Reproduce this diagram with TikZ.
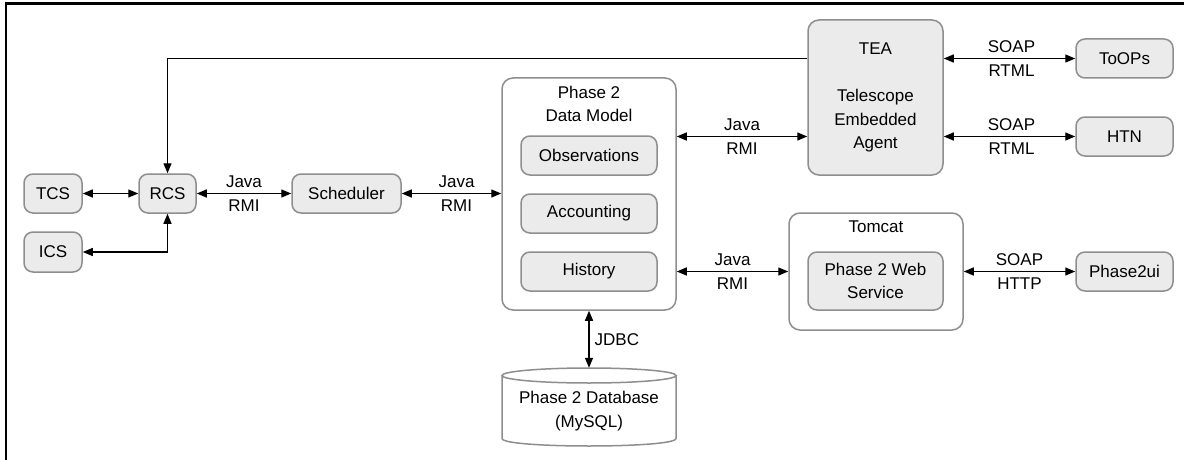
\documentclass[tikz,border=0pt]{standalone}
\usepackage{fontspec}
\setmainfont{Liberation Sans}
\usetikzlibrary{arrows.meta,calc}
\definecolor{boxfill}{HTML}{EBEBEB}
\definecolor{boxline}{HTML}{8E8E8E}
\begin{document}
\begin{tikzpicture}[x=1pt,y=-1pt,
  font=\fontsize{17}{23.5}\selectfont,
  comp/.style={draw=boxline,line width=1.5pt,fill=boxfill,rounded corners=9pt,inner sep=0pt,align=center},
  cont/.style={draw=boxline,line width=1.5pt,fill=white,rounded corners=11pt,inner sep=0pt},
  lnk/.style={line width=1.4pt,{Triangle[length=10pt,width=8pt]}-{Triangle[length=10pt,width=8pt]}},
  lnkone/.style={line width=1.4pt,-{Triangle[length=10pt,width=8pt]}},
  lbl/.style={align=center,inner sep=0pt}]
\useasboundingbox (0,0) rectangle (1184,460);
\draw[line width=2.5pt] (6,460) -- (6,3.5) -- (1184,3.5);
% left group
\node[comp,minimum width=58pt,minimum height=39pt] (tcs) at (53,193.5) {TCS};
\node[comp,minimum width=58pt,minimum height=40pt] (ics) at (53,252) {ICS};
\node[comp,minimum width=57pt,minimum height=39pt] (rcs) at (167.5,193.5) {RCS};
\node[comp,minimum width=109pt,minimum height=39pt] (sched) at (346.5,193.5) {Scheduler};
% data model
\node[cont,minimum width=174pt,minimum height=232pt] (dm) at (589,194) {};
\node[lbl] (dmtitle) at (589,104) {Phase 2\\Data Model};
\node[comp,minimum width=136pt,minimum height=39pt] (obs) at (589,155.5) {Observations};
\node[comp,minimum width=136pt,minimum height=39pt] (acc) at (589,213.5) {Accounting};
\node[comp,minimum width=136pt,minimum height=39pt] (hist) at (589,271.5) {History};
% TEA
\node[comp,rounded corners=11pt,minimum width=135pt,minimum height=155pt] (tea) at (875.5,97.5) {TEA\\[23.5pt]Telescope\\Embedded\\Agent};
\node[comp,minimum width=97pt,minimum height=39pt] (toops) at (1124.5,58.5) {ToOPs};
\node[comp,minimum width=97pt,minimum height=39pt] (htn) at (1124.5,136.5) {HTN};
% Tomcat
\node[cont,minimum width=174pt,minimum height=117pt] (tomcat) at (876,271.5) {};
\node[lbl] (tomcattitle) at (876,227) {Tomcat};
\node[comp,minimum width=135pt,minimum height=58pt] (ws) at (875.5,281) {Phase 2 Web\\Service};
\node[comp,minimum width=97pt,minimum height=39pt] (p2ui) at (1124.5,271.5) {Phase2ui};
% database
\node[minimum width=174pt,minimum height=78pt,inner sep=0pt] (db) at (589,407) {};
\draw[draw=boxline,line width=1.5pt,fill=white]
  (502,375.5) -- (502,438.5) .. controls (502,448.5) and (676,448.5) .. (676,438.5) -- (676,375.5);
\draw[draw=boxline,line width=1.5pt,fill=white] (589,375.5) ellipse [x radius=87pt,y radius=7.5pt];
\node[lbl] (dbtext) at (589,411) {Phase 2 Database\\(MySQL)};
% connectors
\draw[lnk] (tcs.east) -- (rcs.west);
\draw[lnk] (ics.east) -- (rcs.south |- ics.east) -- (rcs.south);
\draw[lnk] (rcs.east) -- node[lbl]{Java\\RMI} (sched.west);
\draw[lnk] (sched.east) -- node[lbl,xshift=5pt]{Java\\RMI} (dm.west |- sched.east);
\draw[lnkone] (tea.west |- toops.west) -- (rcs.north |- toops.west) -- (rcs.north);
\draw[lnk] (dm.east |- htn.west) -- node[lbl]{Java\\RMI} (tea.west |- htn.west);
\draw[lnk] (dm.east |- hist.east) -- node[lbl]{Java\\RMI} (tomcat.west |- hist.east);
\draw[lnk] (tea.east |- toops.west) -- node[lbl,xshift=2pt]{SOAP\\RTML} (toops.west);
\draw[lnk] (tea.east |- htn.west) -- node[lbl,xshift=2pt]{SOAP\\RTML} (htn.west);
\draw[lnk] (tomcat.east |- p2ui.west) -- node[lbl]{SOAP\\HTTP} (p2ui.west);
\draw[lnk] (dm.south) -- node[lbl,right=5pt]{JDBC} (db.north);
\end{tikzpicture}
\end{document}
